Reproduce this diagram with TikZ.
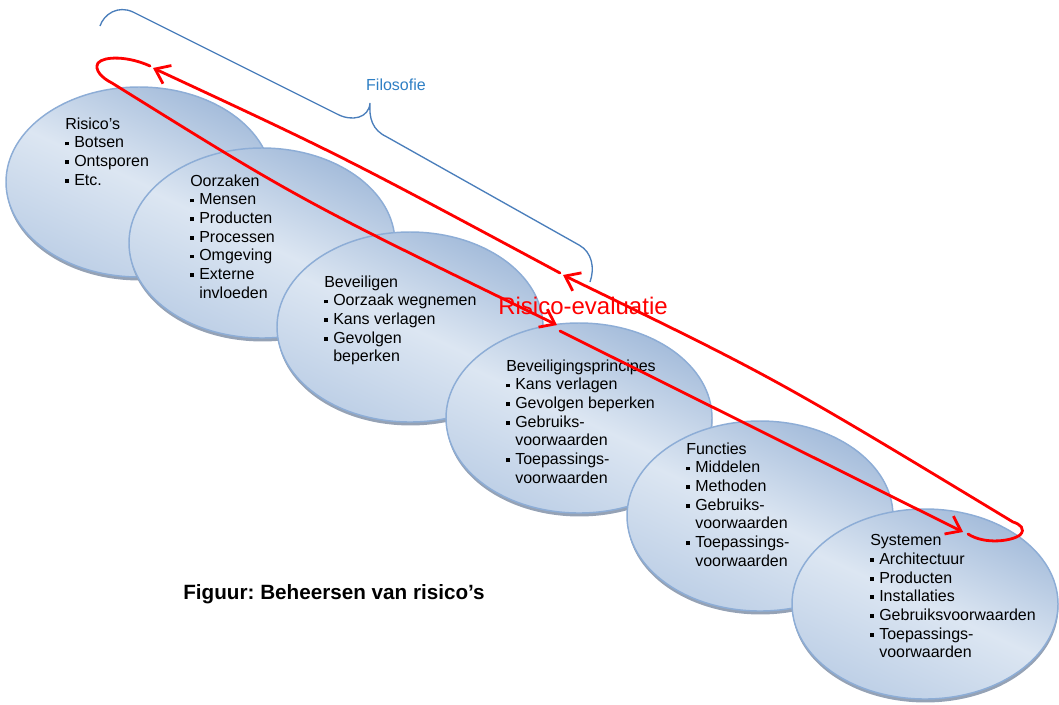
\documentclass[tikz,border=0pt]{standalone}
\usepackage{fontspec}
\setmainfont{Liberation Sans}
\usetikzlibrary{shapes.geometric,shadows,arrows.meta}
\definecolor{elldark}{HTML}{A3BBDA}
\definecolor{elllight}{HTML}{DCE6F2}
\definecolor{ellmid}{HTML}{BDCFE6}
\definecolor{ellborder}{HTML}{8DADD6}
\definecolor{shadowc}{HTML}{95A2B5}
\definecolor{bracec}{HTML}{4A7EBB}
\definecolor{filoc}{HTML}{2F7FC4}
\newcommand{\bul}{\makebox[6.75pt][l]{\rule[1.9pt]{2.9pt}{2.9pt}}}
\newcommand{\ind}{\hspace*{6.75pt}}
\frenchspacing
\begin{document}
\begin{tikzpicture}[x=0.75pt,y=-0.75pt,
  ell/.style={ellipse, minimum width=199.5pt, minimum height=142.5pt, inner sep=0pt,
    draw=ellborder, line width=1.1pt,
    top color=elldark, bottom color=ellmid, middle color=elllight, shading angle=-25,
    drop shadow={shadow xshift=0.3pt, shadow yshift=-2.6pt, fill=shadowc, opacity=1}},
  txt/.style={align=left, anchor=north west, inner sep=0pt, font=\fontsize{12}{14}\selectfont},
  redline/.style={draw=red, line width=2.1pt, line cap=round},
  redarrow/.style={redline, -{Straight Barb[length=10pt,width=15pt]}},
  brace/.style={draw=bracec, line width=1pt},
]
\useasboundingbox (0,0) rectangle (1059,704);

% ellipses with their texts
\node[ell] (e1) at (139,182) {};
\node[txt] (t1) at (65,117.4) {Risico’s\\\bul Botsen\\\bul Ontsporen\\\bul Etc.};
\node[ell] (e2) at (262,243) {};
\node[txt] (t2) at (190,174.4) {Oorzaken\\\bul Mensen\\\bul Producten\\\bul Processen\\\bul Omgeving\\\bul Externe\\\ind invloeden};
\node[ell] (e3) at (410,327) {};
\node[txt] (t3) at (324,275.4) {Beveiligen\\\bul Oorzaak wegnemen\\\bul Kans verlagen\\\bul Gevolgen\\\ind beperken};
\node[ell] (e4) at (579,418) {};
\node[txt] (t4) at (506,359.4) {Beveiligingsprincipes\\\bul Kans verlagen\\\bul Gevolgen beperken\\\bul Gebruiks-\\\ind voorwaarden\\\bul Toepassings-\\\ind voorwaarden};
\node[ell] (e5) at (760,516) {};
\node[txt] (t5) at (686,442.4) {Functies\\\bul Middelen\\\bul Methoden\\\bul Gebruiks-\\\ind voorwaarden\\\bul Toepassings-\\\ind voorwaarden};
\node[ell] (e6) at (925,604) {};
\node[txt] (t6) at (870,534.4) {Systemen\\\bul Architectuur\\\bul Producten\\\bul Installaties\\\bul Gebruiksvoorwaarden\\\bul Toepassings-\\\ind voorwaarden};

% red loop coordinates
\coordinate (r1) at (150,66);
\coordinate (r3) at (112,83);
\coordinate (r4) at (557,325);
\coordinate (r5) at (560,331);
\coordinate (r6) at (963,532);
\coordinate (r7) at (968,534);
\coordinate (r8) at (1013,522);
\coordinate (r9) at (563,275);
\coordinate (r10) at (560,273);
\coordinate (r11) at (153,68);

\draw[redarrow] (r1) .. controls (128,56) and (104,56) .. (98,63)
  .. controls (94,70) and (102,78) .. (r3) .. controls (300,200) .. (r4);
\draw[redarrow] (r5) -- (r6);
\draw[redarrow] (r7) .. controls (985,545) and (1012,541) .. (1020,535)
  .. controls (1026,529) and (1020,524) .. (r8) .. controls (775,378) .. (r9);
\draw[redarrow] (r10) .. controls (340,155) .. (r11);

% blue brace
\coordinate (b1) at (100,26);
\coordinate (b2) at (370,103);
\coordinate (b3) at (590,282);
\draw[brace] (b1) .. controls (104,14) and (118,5) .. (133,12) -- (337,114)
  .. controls (352,122) and (369,118) .. (b2)
  .. controls (369,118) and (372,130) .. (387,137) -- (579,245)
  .. controls (592,252) and (595,268) .. (b3);

\node[text=filoc, font=\fontsize{12}{14}\selectfont] (filo) at (396,85) {Filosofie};
\node[text=red, font=\fontsize{18}{20}\selectfont, anchor=base, inner sep=0pt] (reval) at (583,314) {Risico-evaluatie};
\node[font=\bfseries\fontsize{15.5}{18}\selectfont, anchor=base, inner sep=0pt] (cap) at (334,599) {Figuur: Beheersen van risico’s};
\end{tikzpicture}
\end{document}
